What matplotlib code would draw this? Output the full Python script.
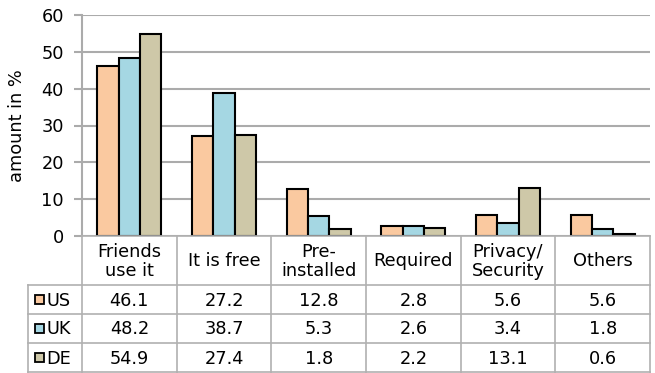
import numpy as np
import matplotlib.pyplot as plt
from matplotlib.patches import Rectangle

categories = ['Friends\nuse it', 'It is free', 'Pre-\ninstalled', 'Required',
              'Privacy/\nSecurity', 'Others']
series = ['US', 'UK', 'DE']
us = [46.1, 27.2, 12.8, 2.8, 5.6, 5.6]
uk = [48.2, 38.7, 5.3, 2.6, 3.4, 1.8]
de = [54.9, 27.4, 1.8, 2.2, 13.1, 0.6]
colors = ['#fac9a0', '#a5d7e3', '#cec8a8']

values = [us, uk, de]
W, H = 655, 373
grid_c = '#ababab'
fs = 12.8

fig = plt.figure(figsize=(W / 100, H / 100), dpi=100)

# main bar chart area (pixel layout)
ax = fig.add_axes([82 / W, 1 - 236 / H, (650 - 82) / W, (236 - 15) / H])
x = np.arange(len(categories))
bw = 0.225
for k, (vals, c) in enumerate(zip(values, colors)):
    ax.bar(x + (k - 1) * bw, vals, bw, color=c, edgecolor='black', linewidth=1.5,
           zorder=3)

ax.set_xlim(-0.5, len(categories) - 0.5)
ax.set_ylim(0, 60)
ax.set_yticks(range(0, 61, 10))
ax.yaxis.grid(True, color=grid_c, linewidth=1.5, zorder=0)
ax.set_xticks([])
for s in ['top', 'right', 'bottom']:
    ax.spines[s].set_visible(False)
ax.spines['left'].set_color(grid_c)
ax.spines['left'].set_linewidth(1.5)
ax.tick_params(axis='y', direction='out', length=6, width=1.5, color=grid_c,
               labelsize=fs, pad=7)
ax.set_ylabel('amount in %', fontsize=fs)
ax.yaxis.set_label_coords((26 - 82) / (650 - 82), 0.5)

# data table under the chart
tax = fig.add_axes([0, 0, 1, 1], facecolor='none')
tax.set_xlim(0, W)
tax.set_ylim(H, 0)
tax.axis('off')

x0, x1 = 82, 650
colw = (x1 - x0) / len(categories)
left = 28
top, head_h, row_h = 236, 49, 29
lc = '#b0b0b0'
lw = 1.2

tax.plot([x0, x1], [top, top], color=lc, lw=lw)
for i in range(len(categories) + 1):
    xx = x0 + i * colw
    tax.plot([xx, xx], [top, H], color=lc, lw=lw)
tax.plot([left, left], [top + head_h, H], color=lc, lw=lw)
for r in range(len(series) + 1):
    yy = top + head_h + r * row_h
    tax.plot([left, x1], [yy, yy], color=lc, lw=lw)

for i, cat in enumerate(categories):
    tax.text(x0 + (i + 0.5) * colw, top + head_h / 2 + 1, cat, ha='center',
             va='center', fontsize=fs, linespacing=1.05)

for r, (name, vals, c) in enumerate(zip(series, values, colors)):
    yc = top + head_h + (r + 0.5) * row_h
    tax.add_patch(Rectangle((35, yc - 4.5), 9, 9, facecolor=c, edgecolor='black',
                            lw=1.3))
    tax.text(46, yc + 1, name, ha='left', va='center', fontsize=fs)
    for i, v in enumerate(vals):
        tax.text(x0 + (i + 0.5) * colw, yc + 1, f'{v:.1f}', ha='center',
                 va='center', fontsize=fs)

fig.savefig('out.png', dpi=100)
